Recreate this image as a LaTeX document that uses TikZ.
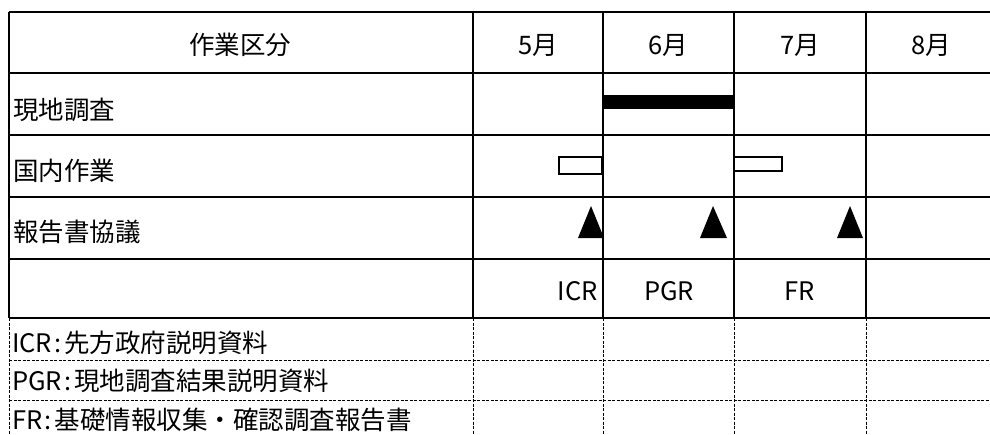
\documentclass[tikz,border=0pt]{standalone}
\usepackage{fontspec}
\setmainfont{Noto Sans CJK JP}
\newcommand{\colsep}{\kern2pt:\kern3pt}
\begin{document}
\begin{tikzpicture}[x=1pt,y=-1pt,
  grid/.style={line width=1.3pt,black},
  thickline/.style={line width=2pt,black},
  dashgrid/.style={line width=0.8pt,black,dash pattern=on 3pt off 1.5pt},
  txt/.style={inner sep=0pt,font=\fontsize{25.5}{30}\selectfont},
  lbl/.style={txt,anchor=west},
  solidfill/.style={fill=black},
  hollow/.style={draw=black,line width=1.6pt,fill=white}]
\useasboundingbox (0,0) rectangle (990,434);
\fill[white] (0,0) rectangle (990,434);
% solid grid (upper part)
\draw[thickline] (9,12) -- (990,12);
\foreach \y in {73,135,197,259} \draw[grid] (9,\y) -- (990,\y);
\draw[thickline] (9,318) -- (990,318);
\draw[grid] (9,12) -- (9,318);
\draw[thickline] (473,12) -- (473,318);
\foreach \x in {603,734,866} \draw[grid] (\x,12) -- (\x,318);
% dashed grid (legend part)
\foreach \y in {360,400} \draw[dashgrid] (9,\y) -- (990,\y);
\foreach \x in {9,473,603,734,866} \draw[dashgrid] (\x,318) -- (\x,434);
% header texts
\node[txt] (hdr) at (240,45) {作業区分};
\node[txt] (m5) at (538,45) {5月};
\node[txt] (m6) at (668,45) {6月};
\node[txt] (m7) at (800,45) {7月};
\node[txt] (m8) at (931,45) {8月};
% row labels
\node[lbl] (r1) at (13,110) {現地調査};
\node[lbl] (r2) at (13,171) {国内作業};
\node[lbl] (r3) at (13,232) {報告書協議};
% bars
\fill[solidfill] (603,95) rectangle (734,109);
\draw[hollow] (559,157) rectangle (603,174);
\draw[line width=2.5pt] (602,156) -- (602,175);
\draw[hollow] (734,157) rectangle (782,171);
% milestones
\fill[solidfill] (578,238) -- (591,206) -- (604,238) -- cycle;
\fill[solidfill] (700,238) -- (713,206) -- (727,238) -- cycle;
\fill[solidfill] (837,238) -- (850,206) -- (863,238) -- cycle;
% report labels
\node[txt,anchor=east] (icr) at (598,291) {ICR};
\node[txt] (pgr) at (669,291) {PGR};
\node[txt] (fr) at (800,291) {FR};
% legend
\node[lbl] (l1) at (12,343) {ICR\colsep 先方政府説明資料};
\node[lbl] (l2) at (12,381) {PGR\colsep 現地調査結果説明資料};
\node[lbl] (l3) at (12,420) {FR\colsep 基礎情報収集・確認調査報告書};
\end{tikzpicture}
\end{document}
